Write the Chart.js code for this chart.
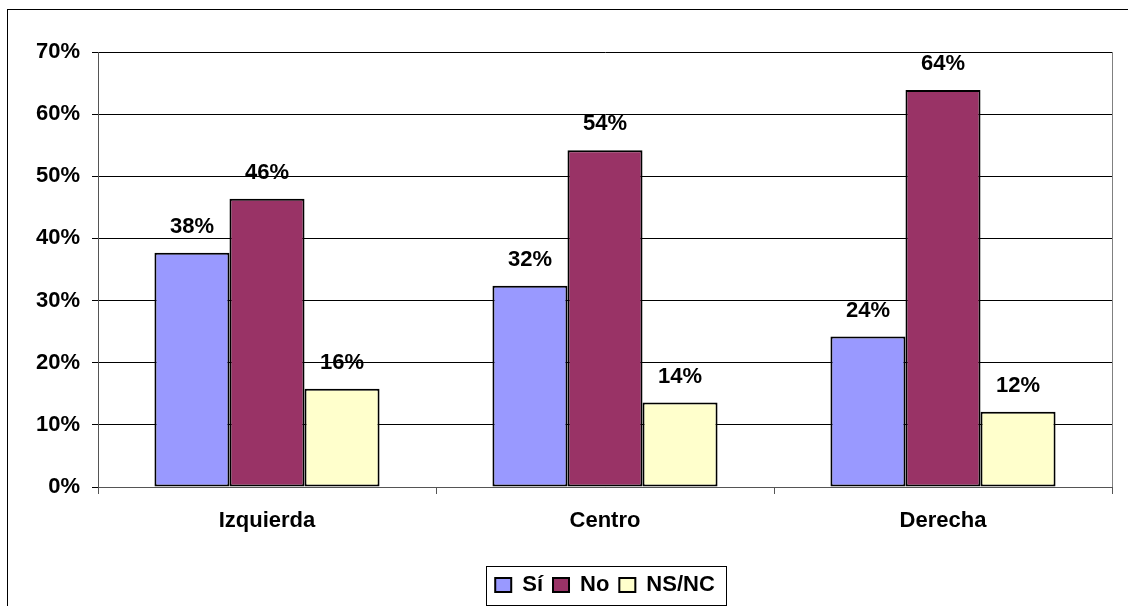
<!DOCTYPE html>
<html>
<head>
<meta charset="utf-8">
<script src="https://cdn.jsdelivr.net/npm/chart.js@4"></script>
<style>
  body { margin: 0; background: #fff; }
  canvas { display: block; }
</style>
</head>
<body>
<canvas id="chart" width="1128" height="606"></canvas>
<script>
const categories = ['Izquierda', 'Centro', 'Derecha'];
const seriesNames = ['Sí', 'No', 'NS/NC'];
const siValues = [37.7, 32.4, 24.2];
const noValues = [46.4, 54.2, 63.9];
const nsncValues = [15.8, 13.6, 12.1];
const yTicks = [0, 10, 20, 30, 40, 50, 60, 70];

const FONT = 'Liberation Sans, Arial, sans-serif';

// etiquetas de valor encima de cada barra
const valueLabels = {
  id: 'valueLabels',
  afterDatasetsDraw(chart) {
    const ctx = chart.ctx;
    ctx.save();
    ctx.font = 'bold 22px ' + FONT;
    ctx.fillStyle = '#000';
    ctx.textAlign = 'center';
    ctx.textBaseline = 'bottom';
    chart.data.datasets.forEach((ds, i) => {
      chart.getDatasetMeta(i).data.forEach((bar, j) => {
        ctx.fillText(Math.round(ds.data[j]) + '%', bar.x, bar.y - 15);
      });
    });
    ctx.restore();
  }
};

// marco exterior, borde derecho del área y caja de la leyenda
const frames = {
  id: 'frames',
  beforeDraw(chart) {
    const ctx = chart.ctx;
    ctx.save();
    ctx.fillStyle = '#fff';
    ctx.fillRect(0, 0, chart.width, chart.height);
    ctx.strokeStyle = '#000';
    ctx.lineWidth = 1;
    ctx.strokeRect(7.5, 9.5, 1300, 800);
    ctx.restore();
  },
  afterDraw(chart) {
    const ctx = chart.ctx;
    const area = chart.chartArea;
    ctx.save();
    ctx.strokeStyle = '#808080';
    ctx.lineWidth = 1;
    ctx.beginPath();
    ctx.moveTo(Math.round(area.right) + 0.5, area.top);
    ctx.lineTo(Math.round(area.right) + 0.5, area.bottom);
    ctx.stroke();

    const boxes = chart.legend.legendHitBoxes;
    if (boxes && boxes.length) {
      const x0 = Math.min(...boxes.map(b => b.left)) - 9;
      const x1 = Math.max(...boxes.map(b => b.left + b.width)) + 11;
      const y0 = Math.min(...boxes.map(b => b.top)) - 8;
      const y1 = Math.max(...boxes.map(b => b.top + b.height)) + 9;
      ctx.strokeStyle = '#000';
      ctx.strokeRect(Math.round(x0) + 0.5, Math.round(y0) + 0.5, Math.round(x1 - x0), Math.round(y1 - y0));
    }
    ctx.restore();
  }
};

new Chart(document.getElementById('chart'), {
  type: 'bar',
  data: {
    labels: categories,
    datasets: [
      { label: seriesNames[0], data: siValues, backgroundColor: '#9999FF' },
      { label: seriesNames[1], data: noValues, backgroundColor: '#993366' },
      { label: seriesNames[2], data: nsncValues, backgroundColor: '#FFFFCC' }
    ].map(d => Object.assign(d, {
      borderColor: '#000',
      borderWidth: 2,
      borderSkipped: false,
      categoryPercentage: 0.666,
      barPercentage: 1.0
    }))
  },
  options: {
    responsive: false,
    devicePixelRatio: 1,
    animation: false,
    layout: { padding: { top: 52, right: 16, left: 0, bottom: 0 } },
    plugins: {
      legend: {
        position: 'bottom',
        fullSize: false,
        labels: {
          color: '#000',
          font: { family: FONT, size: 22, weight: 'bold' },
          boxWidth: 16,
          boxHeight: 14,
          padding: 10
        }
      },
      tooltip: { enabled: false }
    },
    scales: {
      y: {
        min: 0,
        max: 70,
        afterBuildTicks: s => { s.ticks = yTicks.map(v => ({ value: v })); },
        afterFit: s => { s.width = 98; },
        ticks: {
          color: '#000',
          padding: 12,
          font: { family: FONT, size: 22, weight: 'bold' },
          callback: v => v + '%'
        },
        grid: { color: '#000', lineWidth: 1, tickLength: 6 },
        border: { color: '#555' }
      },
      x: {
        afterFit: s => { s.height = 77; },
        ticks: {
          color: '#000',
          padding: 14,
          font: { family: FONT, size: 22, weight: 'bold' }
        },
        grid: { drawOnChartArea: false, color: '#555', tickLength: 7 },
        border: { color: '#555' }
      }
    }
  },
  plugins: [valueLabels, frames]
});
</script>
</body>
</html>
